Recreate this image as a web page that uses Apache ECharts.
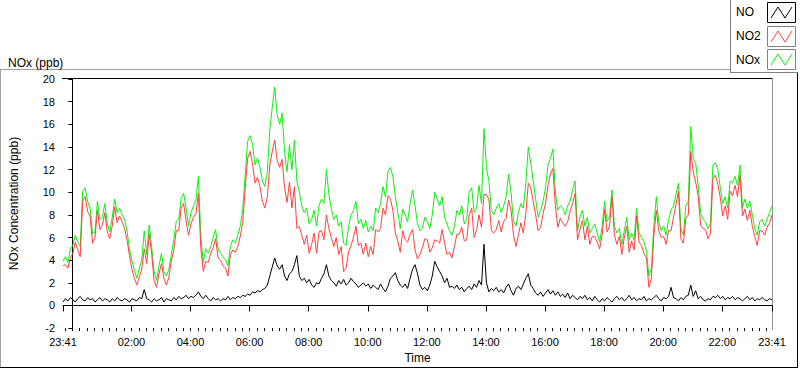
<!DOCTYPE html>
<html>
<head>
<meta charset="utf-8">
<script src="https://cdn.jsdelivr.net/npm/echarts@6/dist/echarts.min.js"></script>
<style>
  html, body { margin: 0; padding: 0; background: #fff; }
  #chart { width: 800px; height: 369px; }
</style>
</head>
<body>
<div id="chart"></div>
<script>
// NOx logger, one day from 23:41 to 23:41, values read every 5 minutes (ppb)
const startMinute = -19; // 23:41 of the previous day
const stepMinutes = 5;

const noxValues = [
  3.9, 4.3, 3.8, 5.0, 5.3, 6.2, 5.6, 5.2, 10.1, 10.4,
  9.2, 8.6, 6.3, 6.5, 9.2, 7.6, 7.8, 9.0, 7.2, 6.5,
  7.8, 9.4, 8.2, 8.6, 8.0, 7.6, 6.6, 5.0, 4.0, 3.1,
  2.4, 3.3, 4.0, 6.6, 4.5, 7.1, 5.2, 3.0, 2.2, 3.5,
  4.6, 3.0, 2.6, 3.2, 4.5, 5.8, 7.4, 7.6, 9.5, 9.9,
  8.6, 7.0, 8.2, 8.8, 9.3, 11.4, 6.0, 3.8, 5.0, 4.6,
  5.2, 6.0, 6.7, 5.0, 4.6, 4.3, 4.0, 3.5, 5.2, 5.8,
  5.5, 6.2, 7.0, 8.5, 11.5, 14.5, 15.0, 14.2, 12.4, 13.0,
  12.2, 11.0, 10.5, 11.8, 15.5, 17.5, 19.3, 16.8, 16.0, 17.0,
  13.5, 11.8, 14.2, 12.0, 14.6, 11.0, 10.0, 8.8, 8.2, 8.6,
  7.2, 7.6, 8.4, 7.0, 8.8, 9.4, 9.0, 12.0, 9.8, 8.5,
  7.6, 8.0, 7.0, 7.4, 5.5, 5.3, 7.0, 8.0, 8.4, 9.2,
  7.2, 7.6, 6.8, 7.5, 6.5, 7.0, 6.6, 8.6, 8.2, 9.0,
  10.5, 9.6, 11.8, 12.2, 11.4, 9.6, 8.2, 6.8, 8.5, 8.0,
  7.4, 9.0, 10.2, 8.8, 7.2, 6.6, 6.8, 7.8, 7.4, 6.8,
  8.0, 10.0, 9.4, 8.8, 9.6, 7.8, 7.2, 6.6, 6.2, 7.0,
  8.4, 8.0, 8.8, 7.2, 7.6, 10.0, 10.4, 8.2, 8.6, 10.6,
  9.0, 15.6, 12.2, 11.0, 8.4, 8.0, 8.6, 9.0, 8.2, 8.8,
  9.6, 11.6, 10.0, 7.4, 7.0, 8.2, 9.0, 8.6, 10.8, 14.0,
  12.6, 11.0, 9.4, 7.8, 8.4, 9.2, 10.4, 12.4, 13.0, 13.8,
  10.0, 8.4, 8.8, 8.6, 8.0, 8.8, 9.2, 10.2, 11.0, 6.6,
  7.8, 8.4, 7.0, 7.8, 6.4, 6.8, 7.2, 6.4, 5.6, 7.0,
  9.2, 7.4, 7.8, 10.2, 7.0, 6.4, 6.8, 5.4, 6.6, 7.8,
  5.8, 6.4, 5.8, 8.6, 6.4, 6.0, 5.6, 4.8, 2.6, 3.2,
  7.0, 9.6, 7.4, 6.6, 7.0, 6.2, 7.6, 8.4, 8.8, 9.8,
  10.8, 6.8, 6.2, 8.8, 9.2, 15.8, 13.0, 12.6, 10.6, 8.2,
  7.6, 7.4, 6.8, 7.2, 12.4, 12.6, 12.0, 10.4, 9.0, 9.6,
  8.6, 11.0, 10.8, 11.4, 10.6, 12.4, 8.6, 9.4, 8.6, 9.2,
  8.0, 6.8, 6.2, 7.4, 7.6, 7.0, 7.6, 8.2, 8.8
];

const no2Values = [
  3.5, 3.6, 3.3, 4.2, 4.6, 5.6, 4.9, 4.3, 9.2, 9.6,
  8.3, 7.9, 5.5, 6.0, 8.4, 6.7, 7.1, 8.2, 6.5, 5.9,
  7.0, 8.7, 7.3, 7.9, 7.4, 6.8, 5.8, 4.4, 3.2, 2.4,
  1.8, 2.5, 3.2, 5.0, 3.7, 6.3, 4.6, 2.2, 1.6, 2.8,
  3.7, 2.4, 1.8, 2.5, 3.9, 4.9, 6.6, 6.6, 8.6, 9.0,
  7.5, 6.2, 7.2, 7.8, 8.1, 9.9, 5.0, 3.0, 3.9, 3.8,
  4.6, 5.1, 5.9, 4.2, 4.0, 3.5, 3.3, 2.6, 4.5, 4.9,
  4.7, 5.2, 6.1, 7.3, 10.3, 13.0, 13.6, 12.5, 10.8, 11.3,
  10.5, 9.2, 8.6, 9.6, 12.4, 13.6, 14.6, 12.8, 12.2, 12.9,
  10.4, 9.1, 10.9, 8.6, 10.5, 6.8, 7.0, 6.2, 5.4, 6.2,
  4.6, 5.4, 6.4, 4.6, 6.5, 6.6, 5.8, 8.0, 6.8, 6.0,
  5.2, 6.0, 4.5, 5.2, 3.0, 3.3, 4.7, 5.3, 6.0, 7.0,
  5.3, 5.5, 4.5, 5.5, 4.3, 5.2, 4.5, 6.7, 6.5, 6.8,
  8.6, 8.0, 9.7, 9.4, 8.4, 6.4, 5.7, 4.7, 6.6, 5.8,
  5.6, 6.3, 6.7, 4.9, 4.1, 4.5, 5.1, 5.9, 5.8, 4.7,
  5.1, 5.8, 5.7, 5.5, 6.7, 5.5, 4.5, 4.7, 4.2, 5.2,
  6.3, 6.3, 6.9, 5.7, 5.8, 8.0, 8.6, 6.0, 6.7, 8.0,
  6.9, 9.8, 9.8, 9.4, 6.6, 6.4, 6.7, 7.5, 6.5, 7.4,
  7.7, 9.3, 8.4, 6.2, 5.2, 6.2, 7.3, 6.4, 8.1, 10.8,
  10.4, 9.2, 8.0, 6.6, 6.9, 8.1, 9.0, 10.6, 11.6, 12.1,
  8.8, 6.9, 7.7, 7.3, 7.0, 7.4, 8.3, 9.0, 9.9, 5.8,
  6.7, 7.5, 5.8, 7.0, 5.4, 6.1, 6.1, 5.6, 5.0, 6.2,
  8.5, 6.5, 7.0, 9.6, 6.2, 5.4, 6.1, 4.5, 6.0, 7.0,
  4.7, 5.7, 4.9, 7.9, 5.6, 5.3, 4.6, 4.2, 1.6, 2.4,
  6.1, 8.4, 6.6, 6.0, 6.1, 5.4, 6.6, 6.6, 7.8, 8.9,
  10.1, 5.9, 5.5, 7.7, 8.0, 13.6, 11.8, 10.9, 9.7, 7.1,
  6.8, 6.7, 5.9, 6.4, 11.2, 11.5, 10.7, 9.5, 7.9, 8.8,
  7.6, 10.1, 9.7, 10.6, 9.6, 11.5, 7.9, 8.5, 7.5, 8.4,
  7.0, 6.1, 5.3, 6.6, 6.6, 6.2, 6.9, 7.3, 8.0
];

const noValues = [
  0.3, 0.6, 0.4, 0.7, 0.5, 0.3, 0.6, 0.8, 0.5, 0.4,
  0.7, 0.5, 0.6, 0.3, 0.5, 0.7, 0.4, 0.6, 0.5, 0.3,
  0.6, 0.4, 0.7, 0.5, 0.4, 0.6, 0.5, 0.3, 0.6, 0.5,
  0.4, 0.7, 0.6, 1.4, 0.6, 0.5, 0.3, 0.6, 0.4, 0.5,
  0.7, 0.3, 0.6, 0.5, 0.4, 0.7, 0.5, 0.8, 0.6, 0.7,
  0.9, 0.6, 0.8, 0.7, 0.9, 1.2, 0.8, 0.6, 0.9, 0.6,
  0.4, 0.7, 0.5, 0.6, 0.4, 0.6, 0.5, 0.8, 0.5, 0.7,
  0.6, 0.8, 0.7, 0.9, 0.8, 1.0, 0.9, 1.2, 1.1, 1.3,
  1.2, 1.4, 1.5, 1.8, 2.6, 3.4, 4.2, 3.5, 3.2, 3.6,
  2.6, 2.2, 2.8, 3.0, 3.6, 4.4, 2.6, 2.2, 2.4, 2.0,
  2.3, 1.8, 1.6, 2.0, 1.9, 2.4, 2.8, 3.6, 2.6, 2.2,
  2.0, 1.7, 2.2, 1.9, 2.3, 1.8, 2.0, 2.4, 2.1, 1.9,
  1.6, 1.8, 2.0, 1.7, 1.9, 1.5, 1.8, 1.6, 1.4, 1.9,
  1.5, 1.2, 1.7, 2.4, 2.6, 2.9, 2.2, 1.8, 1.6, 1.9,
  1.5, 2.4, 3.2, 3.6, 2.8, 1.8, 1.4, 1.6, 1.3, 1.8,
  2.6, 3.9, 3.4, 3.0, 2.6, 2.0, 2.4, 1.6, 1.7, 1.5,
  1.8, 1.4, 1.6, 1.2, 1.5, 1.7, 1.4, 1.9, 1.6, 2.2,
  1.8, 5.4, 2.0, 1.2, 1.5, 1.3, 1.6, 1.2, 1.4, 1.1,
  1.6, 1.9, 1.3, 0.9, 1.5, 1.7, 1.4, 1.9, 2.4, 2.8,
  1.8, 1.5, 1.1, 0.9, 1.2, 0.8, 1.1, 1.4, 1.0, 1.3,
  0.9, 1.2, 0.8, 1.0, 0.7, 1.1, 0.6, 0.9, 0.7, 0.5,
  0.8, 0.6, 0.9, 0.5, 0.7, 0.4, 0.8, 0.5, 0.3, 0.6,
  0.4, 0.7, 0.5, 0.3, 0.6, 0.8, 0.5, 0.7, 0.4, 0.6,
  0.9, 0.5, 0.7, 0.4, 0.6, 0.5, 0.8, 0.4, 0.6, 0.5,
  0.7, 0.9, 0.6, 0.4, 0.7, 0.6, 0.8, 1.6, 0.7, 0.6,
  0.4, 0.7, 0.5, 0.8, 0.9, 1.8, 0.8, 1.3, 0.6, 0.8,
  0.5, 0.4, 0.6, 0.5, 0.8, 0.7, 0.9, 0.6, 0.8, 0.5,
  0.7, 0.6, 0.8, 0.5, 0.7, 0.6, 0.4, 0.6, 0.8, 0.5,
  0.7, 0.4, 0.6, 0.5, 0.7, 0.5, 0.4, 0.6, 0.5
];

// axis ticks (minutes after midnight of the day)
const timeTickMinutes = [-19, 120, 240, 360, 480, 600, 720, 840, 960, 1080, 1200, 1320, 1421];
const timeTickLabels = ["23:41", "02:00", "04:00", "06:00", "08:00", "10:00", "12:00",
  "14:00", "16:00", "18:00", "20:00", "22:00", "23:41"];
const minorTickMinutes = [];
for (let m = -15; m < 1421; m += 15) minorTickMinutes.push(m);

const seriesNames = ["NO", "NO2", "NOx"];
const seriesColors = ["#000000", "#ff4040", "#11ee11"];

const FONT = "Liberation Sans";
const pair = (vals) => vals.map((v, i) => [startMinute + i * stepMinutes, v]);
const labelOf = (v) => timeTickLabels[timeTickMinutes.indexOf(v)] || "";

// legend swatch with a small zigzag, like the original instrument panel
function swatch(y, color, border) {
  return [
    { type: "rect", shape: { x: 767.5, y: y + 0.5, width: 28, height: 20 },
      style: { fill: "#fff", stroke: border, lineWidth: 1 } },
    { type: "polyline",
      shape: { points: [[771, y + 16], [778, y + 5], [785, y + 16], [792, y + 5]] },
      style: { stroke: color, lineWidth: 1, fill: null } }
  ];
}

const chart = echarts.init(document.getElementById("chart"), null, { renderer: "svg" });

chart.setOption({
  animation: false,
  backgroundColor: "#fff",
  textStyle: { fontFamily: FONT },
  title: {
    text: "NOx (ppb)", left: 3, top: 52,
    textStyle: { fontFamily: FONT, fontSize: 12, fontWeight: "normal", color: "#000" }
  },
  grid: { left: 62, right: 28, top: 79, bottom: 39 },
  xAxis: [
    {
      type: "value", min: -19, max: 1421,
      name: "Time", nameLocation: "middle", nameGap: 22,
      nameTextStyle: { fontFamily: FONT, fontSize: 12, color: "#000" },
      axisLine: { show: true, lineStyle: { color: "#000", width: 1 } },
      axisTick: { show: true, customValues: timeTickMinutes, length: 6, lineStyle: { color: "#000" } },
      axisLabel: { customValues: timeTickMinutes, formatter: labelOf, margin: 8,
        fontFamily: FONT, fontSize: 11, color: "#000" },
      splitLine: { show: false }
    },
    {
      type: "value", min: -19, max: 1421, position: "bottom",
      axisLine: { show: false },
      axisTick: { show: true, customValues: minorTickMinutes, length: 3, lineStyle: { color: "#000" } },
      axisLabel: { show: false },
      splitLine: { show: false }
    }
  ],
  yAxis: {
    type: "value", min: -2, max: 20, interval: 2,
    name: "NOx Concentration (ppb)", nameLocation: "middle", nameGap: 43, nameRotate: 90,
    nameTextStyle: { fontFamily: FONT, fontSize: 12, color: "#000" },
    axisLine: { show: true, lineStyle: { color: "#000", width: 1 } },
    axisTick: { show: true, length: 4, lineStyle: { color: "#000" } },
    axisLabel: { margin: 8, fontFamily: FONT, fontSize: 11, color: "#000" },
    splitLine: { show: false }
  },
  series: [
    { name: "NOx", type: "line", data: pair(noxValues), showSymbol: false, z: 2,
      lineStyle: { color: seriesColors[2], width: 1 } },
    { name: "NO2", type: "line", data: pair(no2Values), showSymbol: false, z: 3,
      lineStyle: { color: seriesColors[1], width: 1 } },
    { name: "NO", type: "line", data: pair(noValues), showSymbol: false, z: 4,
      lineStyle: { color: seriesColors[0], width: 1 } }
  ],
  graphic: [
    // outer panel
    { type: "line", shape: { x1: 0, y1: 69.5, x2: 730, y2: 69.5 }, style: { stroke: "#a0a0a0" } },
    { type: "line", shape: { x1: 0.5, y1: 69, x2: 0.5, y2: 368 }, style: { stroke: "#a0a0a0" } },
    { type: "line", shape: { x1: 0, y1: 367.5, x2: 798, y2: 367.5 }, style: { stroke: "#000" } },
    { type: "line", shape: { x1: 797.5, y1: 72, x2: 797.5, y2: 368 }, style: { stroke: "#000" } },
    // plot frame top and right
    { type: "line", shape: { x1: 62, y1: 78.5, x2: 773, y2: 78.5 }, style: { stroke: "#000", lineWidth: 1 } },
    { type: "line", shape: { x1: 772.5, y1: 78, x2: 772.5, y2: 330 }, style: { stroke: "#909090" } },
    // legend box
    { type: "line", shape: { x1: 730.5, y1: 0, x2: 730.5, y2: 72.5 }, style: { stroke: "#808080" } },
    { type: "line", shape: { x1: 730, y1: 72.5, x2: 798, y2: 72.5 }, style: { stroke: "#808080" } },
    ...seriesNames.map((n, k) => ({
      type: "text", left: 736, top: 6 + k * 24,
      style: { text: n, fontFamily: FONT, fontSize: 12, fill: "#000" }
    })),
    ...swatch(2, seriesColors[0], "#000"),
    ...swatch(26, seriesColors[1], "#808080"),
    ...swatch(49, seriesColors[2], "#808080")
  ]
});
</script>
</body>
</html>
